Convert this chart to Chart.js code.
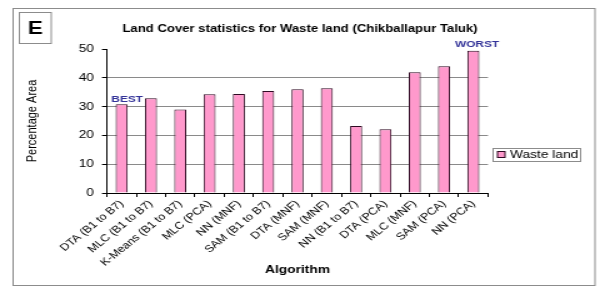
<!DOCTYPE html>
<html>
<head>
<meta charset="utf-8">
<title>Land Cover statistics for Waste land (Chikballapur Taluk)</title>
<script src="https://cdn.jsdelivr.net/npm/chart.js@4.4.1/dist/chart.umd.min.js"></script>
<style>
  html, body { margin: 0; padding: 0; background: #fff; }
  #chart { display: block; }
</style>
</head>
<body>
<!-- the original is an Excel chart pasted a bit wider than drawn, so the canvas is stretched 1.25x -->
<canvas id="chart" width="480" height="288" style="width:600px;height:288px"></canvas>
<script>
const panelLetter = "E";
const chartTitle = "Land Cover statistics for Waste land (Chikballapur Taluk)";
const seriesName = "Waste land";
const xTitle = "Algorithm";
const yTitle = "Percentage Area";

const algorithms = [
  "DTA (B1 to B7)", "MLC (B1 to B7)", "K-Means (B1 to B7)", "MLC (PCA)",
  "NN (MNF)", "SAM (B1 to B7)", "DTA (MNF)", "SAM (MNF)", "NN (B1 to B7)",
  "DTA (PCA)", "MLC (MNF)", "SAM (PCA)", "NN (PCA)"
];
const wasteLand = [30.8, 32.9, 29.0, 34.3, 34.4, 35.4, 36.0, 36.4, 23.3, 22.1, 41.9, 44.0, 49.4];
const yTicks = [0, 10, 20, 30, 40, 50];

const noteText = ["BEST", "WORST"];
const noteBar = [0, 12];

const FONT = 'Arial, "Liberation Sans", sans-serif';
Chart.defaults.font.family = FONT;
Chart.defaults.color = "#000";

const decor = {
  id: "decor",
  beforeDraw(chart) {
    const { ctx, width, height } = chart;
    ctx.save();
    ctx.fillStyle = "#fff";
    ctx.fillRect(0, 0, width, height);
    ctx.strokeStyle = "#8c8c8c";
    ctx.lineWidth = 1;
    ctx.strokeRect(10.5, 8.5, 465.5, 277);
    ctx.strokeRect(15.5, 12.5, 25.5, 31);

    ctx.fillStyle = "#000";
    ctx.textAlign = "center";
    ctx.textBaseline = "middle";
    ctx.font = "bold 18px " + FONT;
    ctx.fillText(panelLetter, 28.3, 29);
    ctx.font = "bold 10.5px " + FONT;
    ctx.fillText(chartTitle, 240, 29);
    ctx.restore();
  },
  afterDatasetsDraw(chart) {
    const ctx = chart.ctx;
    const bars = chart.getDatasetMeta(0).data;
    ctx.save();
    ctx.fillStyle = "#333399";
    ctx.font = "bold 9.5px " + FONT;
    ctx.textAlign = "center";
    ctx.textBaseline = "alphabetic";
    noteText.forEach((t, i) => {
      const b = bars[noteBar[i]];
      ctx.fillText(t, b.x + (i === 0 ? 4.4 : 3), b.y - (i === 0 ? 2 : 4));
    });
    ctx.restore();
  },
  afterDraw(chart) {
    const ctx = chart.ctx;
    const ds = chart.data.datasets[0];
    ctx.save();
    ctx.strokeStyle = "#8c8c8c";
    ctx.lineWidth = 1;
    ctx.strokeRect(394.5, 148.5, 70, 13);
    ctx.fillStyle = ds.backgroundColor;
    ctx.fillRect(398, 151.5, 6, 6);
    ctx.strokeStyle = ds.borderColor;
    ctx.strokeRect(398, 151.5, 6, 6);
    ctx.fillStyle = "#000";
    ctx.font = "11px " + FONT;
    ctx.textAlign = "left";
    ctx.textBaseline = "middle";
    ctx.fillText(ds.label, 408, 155);
    ctx.restore();
  }
};

new Chart(document.getElementById("chart"), {
  type: "bar",
  data: {
    labels: algorithms,
    datasets: [{
      label: seriesName,
      data: wasteLand,
      backgroundColor: "#ff99cc",
      borderColor: "#2e0a22",
      borderWidth: 1,
      borderSkipped: "bottom",
      barPercentage: 0.41,
      categoryPercentage: 1
    }]
  },
  options: {
    responsive: false,
    animation: false,
    devicePixelRatio: 1,
    layout: { padding: { top: 49, left: 10.4, right: 89.6, bottom: 8 } },
    plugins: {
      legend: { display: false },
      title: { display: false },
      tooltip: { enabled: false }
    },
    scales: {
      x: {
        grid: { display: true, offset: true, drawOnChartArea: false, drawTicks: true, tickLength: 4, color: "#000" },
        border: { display: true, color: "#000", width: 1 },
        ticks: { autoSkip: false, minRotation: 45, maxRotation: 45, padding: 1, font: { size: 10 }, color: "#000" },
        title: { display: true, text: xTitle, font: { size: 11, weight: "bold" }, padding: { top: 0, bottom: 3.4 } },
        afterFit(s) { s.height = 87; }
      },
      y: {
        min: 0,
        max: 50,
        afterBuildTicks(s) { s.ticks = yTicks.map(v => ({ value: v })); },
        grid: {
          drawTicks: true,
          tickLength: 4,
          tickColor: "#000",
          color: c => (c.tick && c.tick.value > 0 && c.tick.value < 50 ? "#8a8a8a" : "rgba(0,0,0,0)")
        },
        border: { display: true, color: "#000", width: 1 },
        ticks: { padding: 6.4, font: { size: 11 }, color: "#000" },
        title: { display: true, text: yTitle, font: { size: 11 }, padding: { top: 9.4, bottom: 0 } },
        afterFit(s) { s.width = 75.2; }
      }
    }
  },
  plugins: [decor]
});
</script>
</body>
</html>
